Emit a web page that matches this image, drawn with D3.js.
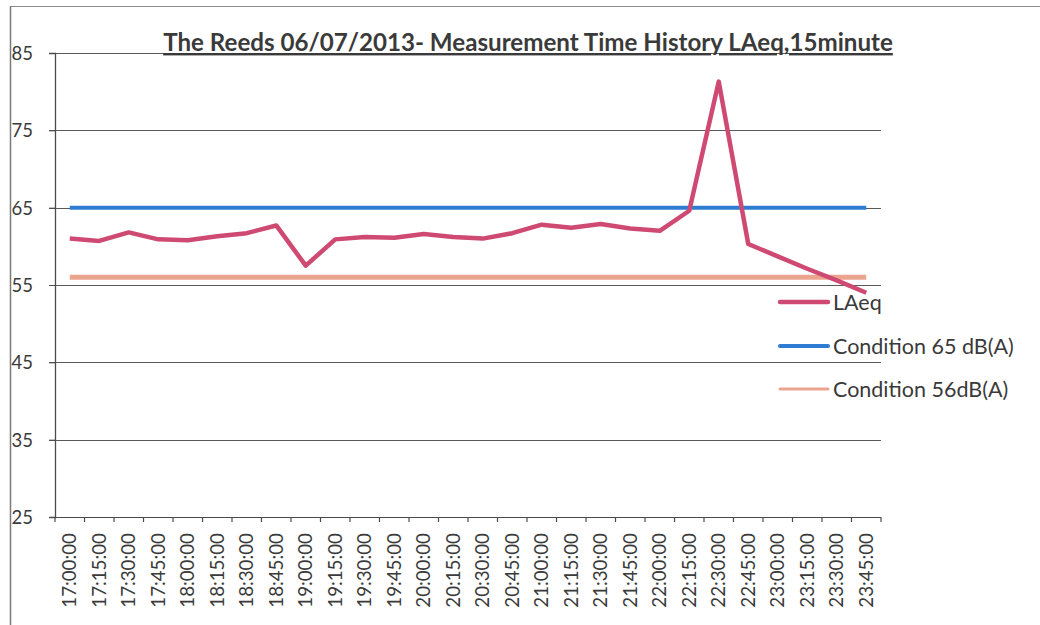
<!DOCTYPE html>
<html>
<head>
<meta charset="utf-8">
<script src="https://cdn.jsdelivr.net/npm/d3@7"></script>
<style>
  html, body { margin: 0; padding: 0; background: #fff; }
  svg { display: block; font-family: Lato, "Open Sans", sans-serif; }
</style>
</head>
<body>
<svg id="chart" width="1040" height="625"></svg>
<script>
// ---- data ----
const times = ["17:00:00","17:15:00","17:30:00","17:45:00","18:00:00","18:15:00","18:30:00","18:45:00",
  "19:00:00","19:15:00","19:30:00","19:45:00","20:00:00","20:15:00","20:30:00","20:45:00",
  "21:00:00","21:15:00","21:30:00","21:45:00","22:00:00","22:15:00","22:30:00","22:45:00",
  "23:00:00","23:15:00","23:30:00","23:45:00"];
const laeq = [61.0, 60.7, 61.8, 60.9, 60.8, 61.3, 61.7, 62.7,
  57.5, 60.9, 61.2, 61.1, 61.6, 61.2, 61.0, 61.7,
  62.8, 62.4, 62.9, 62.3, 62.0, 64.6, 81.3, 60.3,
  58.7, 57.1, 55.6, 54.0];
const condition65 = times.map(() => 65);
const condition56 = times.map(() => 56);
const yTicks = [25, 35, 45, 55, 65, 75, 85];
const seriesNames = ["LAeq", "Condition 65 dB(A)", "Condition 56dB(A)"];
const titleText = "The Reeds 06/07/2013- Measurement Time History LAeq,15minute";

(function () {
// ---- styles ----
const colors = ["#cf4a72", "#2f7dd2", "#eba58f"];
const widths = [4.5, 4, 5];
const textColor = "#3a3a3a";

const svg = d3.select("#chart");
const pL = 55, pR = 881, pT = 53, pB = 517;

const x = d3.scaleBand().domain(times).range([pL, pR]).padding(0);
const y = d3.scaleLinear().domain([25, 85]).range([pB, pT]);
const cx = d => x(d) + x.bandwidth() / 2;

// frame
svg.append("line").attr("x1", 10).attr("x2", 1040).attr("y1", 6.5).attr("y2", 6.5)
  .attr("stroke", "#8a8a8a").attr("stroke-width", 1.2);
svg.append("line").attr("x1", 10.5).attr("x2", 10.5).attr("y1", 6).attr("y2", 625)
  .attr("stroke", "#7a7a7a").attr("stroke-width", 1.5);

// gridlines
svg.append("g").selectAll("line").data(yTicks).join("line")
  .attr("x1", pL - 6).attr("x2", pR)
  .attr("y1", d => Math.round(y(d)) + 0.5).attr("y2", d => Math.round(y(d)) + 0.5)
  .attr("stroke", "#5a5a5a").attr("stroke-width", 1.1);

// y axis
const yAxis = svg.append("g").attr("transform", `translate(${pL},0)`)
  .call(d3.axisLeft(y).tickValues(yTicks).tickSize(6).tickPadding(16));
yAxis.select(".domain").attr("stroke", "#4a4a4a").attr("stroke-width", 1.3);
yAxis.selectAll(".tick line").attr("stroke", "#4a4a4a");
yAxis.selectAll("text").attr("fill", textColor).attr("font-size", 18.5)
  .attr("font-family", "Lato, sans-serif").attr("dy", "0.35em");

// x axis
const xAxis = svg.append("g").attr("transform", `translate(0,${pB})`)
  .call(d3.axisBottom(x).tickSize(0).tickPadding(0));
xAxis.select(".domain").remove();
svg.append("line").attr("x1", pL - 6).attr("x2", pR).attr("y1", pB + 0.5).attr("y2", pB + 0.5)
  .attr("stroke", "#4a4a4a").attr("stroke-width", 1.2);
const boundaries = times.map(t => x(t)).concat([pR]);
svg.append("g").selectAll("line").data(boundaries).join("line")
  .attr("x1", d => d).attr("x2", d => d).attr("y1", pB).attr("y2", pB + 5)
  .attr("stroke", "#4a4a4a").attr("stroke-width", 1.2);
xAxis.selectAll("text")
  .attr("fill", textColor).attr("font-size", 18.8).attr("font-family", "Lato, sans-serif")
  .attr("text-anchor", "end")
  .attr("transform", "translate(0,16) rotate(-90)")
  .attr("x", 0).attr("y", 0).attr("dy", "0.35em");

// series lines
const line = d3.line().x((d, i) => cx(times[i])).y(d => y(d));
svg.append("path").datum(condition56).attr("d", line).attr("fill", "none")
  .attr("stroke", colors[2]).attr("stroke-width", widths[2]);
svg.append("path").datum(condition65).attr("d", line).attr("fill", "none")
  .attr("stroke", colors[1]).attr("stroke-width", widths[1]);
svg.append("path").datum(laeq).attr("d", line).attr("fill", "none")
  .attr("stroke", colors[0]).attr("stroke-width", widths[0]).attr("stroke-linejoin", "round");

// title
const title = svg.append("text").attr("x", 528).attr("y", 51)
  .attr("text-anchor", "middle").attr("font-weight", "bold").attr("font-size", 22)
  .attr("fill", "#3a3a3a").attr("text-decoration", "underline").text(titleText);
const tw = title.node().getComputedTextLength();
title.attr("font-size", 22 * 730 / tw);

// legend
const legend = svg.append("g");
const legY = [302, 346, 389];
seriesNames.forEach((name, i) => {
  legend.append("line").attr("x1", 780).attr("x2", 828).attr("y1", legY[i]).attr("y2", legY[i])
    .attr("stroke", colors[i]).attr("stroke-width", i === 2 ? 3 : widths[i]).attr("stroke-linecap", "round");
  legend.append("text").attr("x", 833).attr("y", legY[i]).attr("dy", "0.35em")
    .attr("font-size", 21.5).attr("fill", textColor).text(name);
});
})();
</script>
</body>
</html>
